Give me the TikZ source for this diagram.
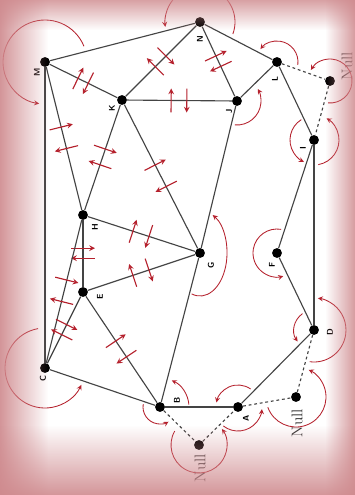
\documentclass[tikz,border=0pt]{standalone}
\usepackage{xcolor}
\usepackage{tikz}
\usetikzlibrary{decorations.markings,fadings}
\definecolor{edgegray}{HTML}{444444}
\definecolor{turnred}{HTML}{B5202C}
\definecolor{vignette}{HTML}{CF8A8E}
\tikzfading[name=fadetoright, left color=transparent!0, right color=transparent!100]
\tikzfading[name=fadetoleft, left color=transparent!100, right color=transparent!0]
\tikzfading[name=fadetodown, top color=transparent!0, bottom color=transparent!100]
\tikzfading[name=fadetoup, top color=transparent!100, bottom color=transparent!0]

\begin{document}
\begin{tikzpicture}[
  x=0.025cm, y=0.025cm,
  vtx/.style={circle, fill=black, inner sep=0pt, minimum size=7pt},
  lbl/.style={font=\sffamily\bfseries\fontsize{6}{6}\selectfont, rotate=90, inner sep=0pt},
  nulllbl/.style={font=\fontsize{11}{11}\selectfont, text=black!80, rotate=90, inner sep=0pt},
  edge/.style={draw=edgegray, line width=0.8pt},
  nulledge/.style={edge, dash pattern=on 2pt off 2pt},
  flip/.style={->, >=stealth, draw=turnred, line width=0.8pt},
  turn/.style={->, >=stealth, draw=turnred, line width=0.6pt},
  faces/.style={postaction={decorate}, decoration={markings,
      mark=at position 0.42 with {\draw[flip] (0,-8.5pt) -- (0,8.5pt);},
      mark=at position 0.57 with {\draw[flip] (0,8.5pt) -- (0,-8.5pt);}}},
]
  \useasboundingbox (0,0) rectangle (355,-495);
  \clip (0,0) rectangle (355,-495);
  \fill[white] (0,0) rectangle (355,-495);

  \node[vtx] (M)  at (45,-62)   {};
  \node[vtx] (N)  at (200,-22)  {};
  \node[vtx] (K)  at (122,-100) {};
  \node[vtx] (J)  at (237,-101) {};
  \node[vtx] (L)  at (277,-62)  {};
  \node[vtx] (Na) at (330,-81)  {};
  \node[vtx] (I)  at (314,-140) {};
  \node[vtx] (H)  at (83,-215)  {};
  \node[vtx] (G)  at (200,-253) {};
  \node[vtx] (F)  at (277,-253) {};
  \node[vtx] (E)  at (83,-292)  {};
  \node[vtx] (C)  at (45,-368)  {};
  \node[vtx] (B)  at (160,-407) {};
  \node[vtx] (A)  at (238,-407) {};
  \node[vtx] (Nb) at (296,-397) {};
  \node[vtx] (D)  at (314,-330) {};
  \node[vtx] (Nc) at (199,-445) {};

  \node[lbl] (tM) at ([shift={(-8,-10)}]M) {M};
  \node[lbl] (tN) at ([shift={(0,-17)}]N)  {N};
  \node[lbl] (tK) at ([shift={(-10,-8)}]K) {K};
  \node[lbl] (tJ) at ([shift={(-8,-10)}]J) {J};
  \node[lbl] (tL) at ([shift={(-2,-17)}]L) {L};
  \node[lbl] (tI) at ([shift={(-11,-8)}]I) {I};
  \node[lbl] (tH) at ([shift={(12,-12)}]H) {H};
  \node[lbl] (tE) at ([shift={(17,-5)}]E)  {E};
  \node[lbl] (tG) at ([shift={(11,-12)}]G) {G};
  \node[lbl] (tF) at ([shift={(-5,-12)}]F) {F};
  \node[lbl] (tD) at ([shift={(16,-2)}]D)  {D};
  \node[lbl] (tA) at ([shift={(8,-11)}]A)  {A};
  \node[lbl] (tB) at ([shift={(17,7)}]B)   {B};
  \node[lbl] (tC) at ([shift={(-2,-11)}]C) {C};
  \node[nulllbl] (tNa) at ([shift={(17,15)}]Na) {Null};
  \node[nulllbl] (tNb) at ([shift={(1,-26)}]Nb) {Null};
  \node[nulllbl] (tNc) at ([shift={(1,-23)}]Nc) {Null};

  \draw[edge] (M) -- (N);
  \draw[edge, faces] (M) -- (K);
  \draw[edge, faces] (M) -- (H);
  \draw[edge] (M) -- (C);
  \draw[edge, faces] (K) -- (N);
  \draw[edge, faces] (K) -- (J);
  \draw[edge, faces] (K) -- (H);
  \draw[edge, faces] (K) -- (G);
  \draw[edge, faces] (N) -- (J);
  \draw[edge] (N) -- (L);
  \draw[edge] (J) -- (L);
  \draw[edge] (J) -- (G);
  \draw[edge] (G) -- (B);
  \draw[edge] (L) -- (I);
  \draw[edge] (I) -- (F);
  \draw[edge] (I) -- (D);
  \draw[edge] (F) -- (D);
  \draw[edge] (D) -- (A);
  \draw[edge] (A) -- (B);
  \draw[edge] (B) -- (C);
  \draw[edge, faces] (E) -- (B);
  \draw[edge, faces] (H) -- (G);
  \draw[edge, faces] (E) -- (G);
  \draw[edge, faces] (H) -- (E);
  \draw[edge, faces] (H) -- (C);
  \draw[edge, faces] (E) -- (C);
  \draw[nulledge] (L) -- (Na);
  \draw[nulledge] (Na) -- (I);
  \draw[nulledge] (A) -- (Nb);
  \draw[nulledge] (Nb) -- (D);
  \draw[nulledge] (B) -- (Nc);
  \draw[nulledge] (Nc) -- (A);

  \draw[turn] ([shift={(22:42)}]M.center) arc[start angle=22, end angle=262, radius=42];
  \draw[turn] ([shift={(-20:35)}]N.center) arc[start angle=-20, end angle=188, radius=35];
  \draw[turn] ([shift={(-8:21)}]L.center) arc[start angle=-8, end angle=142, radius=21];
  \draw[turn] ([shift={(-95:22)}]Na.center) arc[start angle=-95, end angle=150, radius=22];
  \draw[turn] ([shift={(-80:25)}]I.center) arc[start angle=-80, end angle=60, radius=25];
  \draw[turn] ([shift={(262:32)}]D.center) arc[start angle=262, end angle=443, radius=32];
  \draw[turn] ([shift={(200:30)}]Nb.center) arc[start angle=200, end angle=425, radius=30];
  \draw[turn] ([shift={(232:24)}]A.center) arc[start angle=232, end angle=355, radius=24];
  \draw[turn] ([shift={(150:28)}]Nc.center) arc[start angle=150, end angle=395, radius=28];
  \draw[turn] ([shift={(170:17)}]B.center) arc[start angle=170, end angle=300, radius=17];
  \draw[turn] ([shift={(100:40)}]C.center) arc[start angle=100, end angle=335, radius=40];
  \draw[turn] ([shift={(-95:24)}]J.center) arc[start angle=-95, end angle=30, radius=24];
  \draw[turn] ([shift={(-108:27 and 43)}]G.center) arc[start angle=-108, end angle=62, x radius=27, y radius=43];
  \draw[turn] ([shift={(122:24)}]I.center) arc[start angle=122, end angle=245, radius=24];
  \draw[turn] ([shift={(80:24)}]F.center) arc[start angle=80, end angle=285, radius=24];
  \draw[turn] ([shift={(125:20)}]D.center) arc[start angle=125, end angle=215, radius=20];
  \draw[turn] ([shift={(55:22)}]A.center) arc[start angle=55, end angle=168, radius=22];
  \draw[turn] ([shift={(5:29)}]B.center) arc[start angle=5, end angle=66, radius=29];

  \fill[vignette, path fading=fadetoright, fill opacity=0.9] (0,0) rectangle (48,-495);
  \fill[vignette, path fading=fadetodown, fill opacity=0.8] (0,0) rectangle (355,-30);
  \fill[vignette, path fading=fadetoleft, fill opacity=0.85] (325,0) rectangle (355,-495);
  \fill[vignette, path fading=fadetoup, fill opacity=0.9] (0,-425) rectangle (355,-495);
\end{tikzpicture}
\end{document}
